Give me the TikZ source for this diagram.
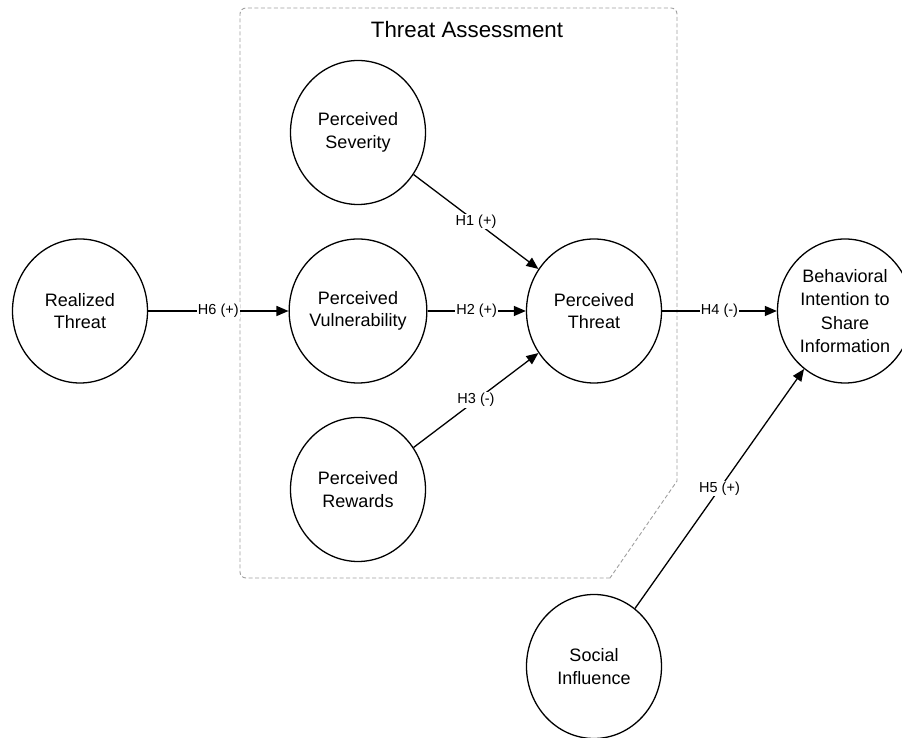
\documentclass[tikz,border=0pt]{standalone}
\usepackage{fontspec}
\setmainfont{Liberation Sans}
\usetikzlibrary{arrows.meta,shapes.geometric}
\begin{document}
\begin{tikzpicture}[x=1pt,y=1pt,
 construct/.style={ellipse, draw, line width=1.3pt, minimum width=135pt, minimum height=144pt, inner sep=0pt, align=center, font=\fontsize{18}{22.5}\selectfont},
 link/.style={line width=1.3pt, -{Triangle[length=12pt,width=10pt]}},
 hyp/.style={fill=white, inner sep=1pt, font=\fontsize{14.5}{16}\selectfont},
 region/.style={draw=gray!75, dash pattern=on 4pt off 2.5pt, line width=0.9pt},
 titletext/.style={font=\fontsize{22.3}{26}\selectfont}]
\useasboundingbox (0,0) rectangle (902,738);
\clip (0,0) rectangle (902,738);
% threat assessment region
\draw[region] (610,160) -- (246,160) arc[start angle=270, end angle=180, radius=6]
  -- (240,724) arc[start angle=180, end angle=90, radius=6]
  -- (671,730) arc[start angle=90, end angle=0, radius=6]
  -- (677,257) -- cycle;
\node[titletext] (title) at (467,708) {Threat Assessment};
% constructs
\node[construct] (rt) at (80,427) {Realized\\Threat};
\node[construct] (ps) at (358,605.5) {Perceived\\Severity};
\node[construct] (pv) at (358,427) {Perceived\\Vulnerability};
\node[construct] (pr) at (358,248.5) {Perceived\\Rewards};
\node[construct] (pt) at (594,427) {Perceived\\Threat};
\node[construct, font=\fontsize{18}{23.5}\selectfont] (bi) at (845,427) {Behavioral\\Intention to\\Share\\Information};
\node[construct] (si) at (594,71.5) {Social\\Influence};
% hypotheses
\draw[link] (rt) -- node[hyp] {H6 (+)} (pv);
\draw[link] (ps) -- node[hyp] {H1 (+)} (pt);
\draw[link] (pv) -- node[hyp] {H2 (+)} (pt);
\draw[link] (pr) -- node[hyp] {H3 (-)} (pt);
\draw[link] (pt) -- node[hyp] {H4 (-)} (bi);
\draw[link] (si) -- node[hyp] {H5 (+)} (bi);
\end{tikzpicture}
\end{document}
